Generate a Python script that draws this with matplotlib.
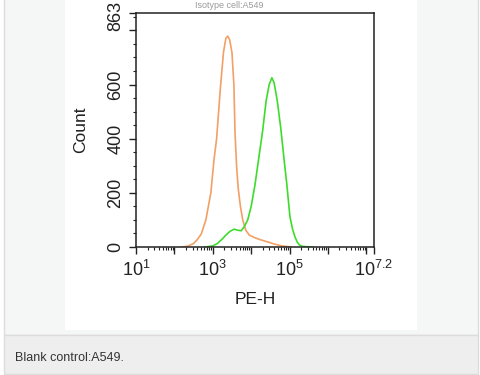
"""
Flow cytometry histogram: blank control vs stained A549 cells (PE-H).
"""

import matplotlib
matplotlib.use("Agg")
import matplotlib.pyplot as plt
import matplotlib.transforms as mtransforms
from matplotlib.patches import Rectangle
from matplotlib.ticker import FixedLocator, MultipleLocator
import numpy as np

plt.rcParams["font.family"] = ["Liberation Sans", "DejaVu Sans"]
plt.rcParams["mathtext.fontset"] = "custom"
plt.rcParams["mathtext.rm"] = "Liberation Sans"
plt.rcParams["mathtext.it"] = "Liberation Sans"

# ---------------------------------------------------------------------------
# Data (x is log10 of PE-H)
# ---------------------------------------------------------------------------

blank_log_x = [2.2, 2.35, 2.5, 2.6, 2.7, 2.82, 2.95, 3.03, 3.1, 3.2, 3.28, 3.34,
               3.39, 3.44, 3.5, 3.55, 3.58, 3.62, 3.66, 3.72, 3.78, 3.86, 3.95,
               4.1, 4.26, 4.45, 4.6, 4.8, 5.05]
blank_count = [0, 3, 13, 28, 48, 100, 200, 320, 400, 590, 720, 770,
               779, 765, 718, 600, 420, 300, 220, 150, 100, 62, 44,
               34, 26, 18, 11, 4, 0]

stain_log_x = [2.8, 3.0, 3.12, 3.25, 3.34, 3.45, 3.56, 3.65, 3.74, 3.82, 3.91,
               4.0, 4.1, 4.2, 4.3, 4.39, 4.47, 4.54, 4.6, 4.68, 4.77, 4.86,
               4.93, 5.01, 5.08, 5.14, 5.2, 5.26, 5.35, 5.45, 5.6]
stain_count = [0, 4, 13, 30, 44, 58, 66, 62, 60, 75, 100,
               150, 230, 330, 430, 540, 600, 625, 605, 540, 440, 320,
               230, 112, 65, 38, 18, 7, 2, 1, 0]

x_tick_exps = [1, 2, 3, 4, 5, 6, 7, 7.2]
x_tick_labels = [r"$10^{1}$", "", r"$10^{3}$", "", r"$10^{5}$", "", "", r"$10^{7.2}$"]
y_ticks = [0, 200, 400, 600, 800, 863]
y_tick_labels = ["0", "200", "400", "600", "", "863"]

W, H = 480, 375
fig = plt.figure(figsize=(W / 100, H / 100), dpi=100)
fig.patch.set_facecolor("white")


def px_rect(x0, y0, x1, y1, **kw):
    # rectangle given in pixel coords (origin top-left), drawn behind the axes
    fig.patches.append(Rectangle((x0 / W, 1 - y1 / H), (x1 - x0) / W, (y1 - y0) / H,
                                 transform=fig.transFigure, figure=fig,
                                 zorder=-10, **kw))


# page frame, white image area and caption band
px_rect(4, -2, 478, 335, facecolor="#f5f6f6", edgecolor="#dcdcdc", linewidth=1)
px_rect(65, -2, 417, 330, facecolor="white", edgecolor="none")
px_rect(4, 335, 478, 374, facecolor="#eeeeee", edgecolor="#dcdcdc", linewidth=1)
fig.text(15 / W, 1 - 358 / H, "Blank control:A549.", fontsize=9,
         color="#333333", va="center", ha="left")

# small title at the very top of the image
fig.text(195 / W, 1 - 1 / H, "Isotype cell:A549", fontsize=6.5, color="#9a9a9a",
         va="top", ha="left")

ax = fig.add_axes([136 / W, 1 - 247 / H, (374 - 136) / W, (247 - 13.3) / H])
ax.set_facecolor("white")

ax.plot(10 ** np.array(blank_log_x), blank_count, color="#f2a065", linewidth=1.2)
ax.plot(10 ** np.array(stain_log_x), stain_count, color="#3ddc2c", linewidth=1.2)

ax.set_xscale("log")
ax.set_xlim(10 ** 1, 10 ** 7.2)
ax.set_ylim(0, 863)

ax.set_xticks([10.0 ** e for e in x_tick_exps])
ax.set_xticklabels(x_tick_labels)
ax.xaxis.set_minor_locator(FixedLocator(
    [m * 10.0 ** e for e in range(1, 7) for m in range(2, 10)]))

ax.set_yticks(y_ticks)
ax.set_yticklabels(y_tick_labels, rotation=90, va="center")
ax.yaxis.set_minor_locator(MultipleLocator(50))

ax.tick_params(axis="both", which="major", direction="out", length=5, width=1,
               labelsize=13, color="#222222", labelcolor="#222222")
ax.tick_params(axis="both", which="minor", direction="out", length=2.5, width=0.8,
               color="#222222")
ax.tick_params(axis="x", pad=4)
for s in ax.spines.values():
    s.set_linewidth(1.1)
    s.set_color("#222222")

# nudge the top "863" label down a little so it stays inside the picture
top_label = ax.get_yticklabels()[-1]
top_label.set_transform(top_label.get_transform() +
                        mtransforms.ScaledTranslation(0, -3 / 100, fig.dpi_scale_trans))

ax.set_xlabel("PE-H", fontsize=12.5, color="#222222", labelpad=9)
ax.set_ylabel("Count", fontsize=12.5, color="#222222", labelpad=14)

fig.savefig("out.png", dpi=100)
